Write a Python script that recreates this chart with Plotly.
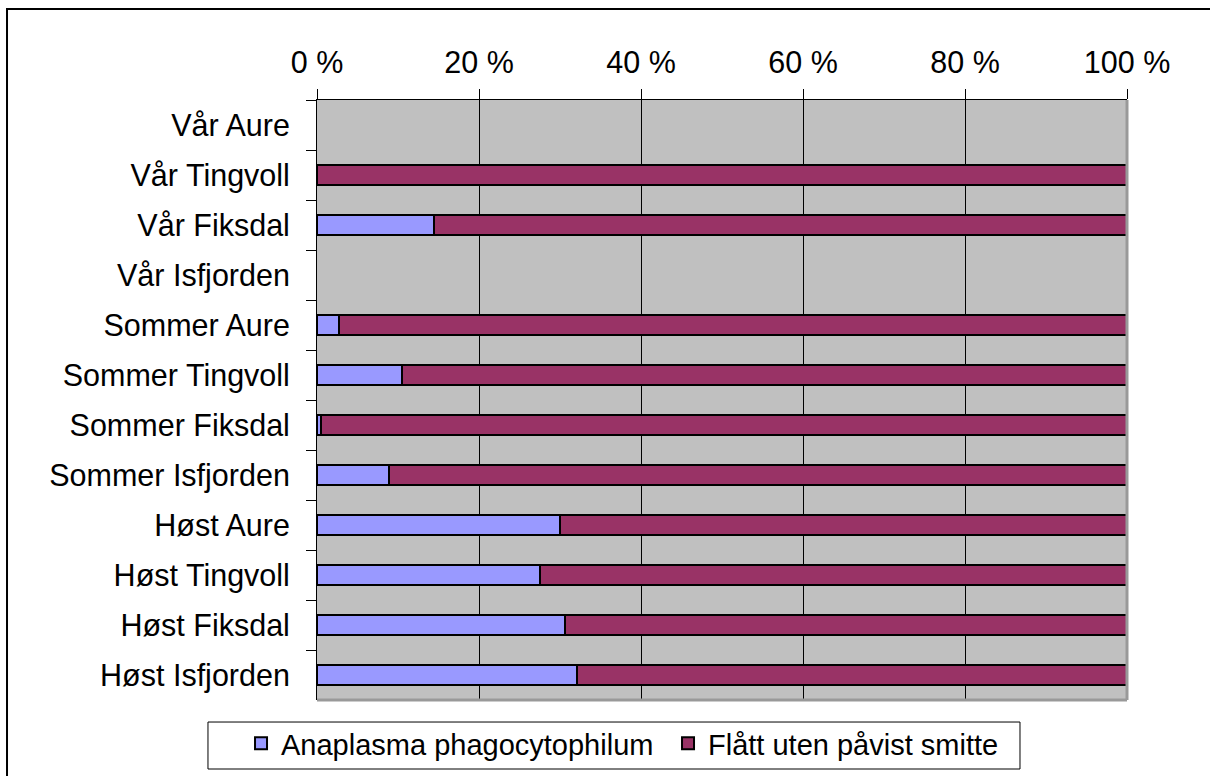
import plotly.graph_objects as go

categories = [
    "Vår Aure", "Vår Tingvoll", "Vår Fiksdal", "Vår Isfjorden",
    "Sommer Aure", "Sommer Tingvoll", "Sommer Fiksdal", "Sommer Isfjorden",
    "Høst Aure", "Høst Tingvoll", "Høst Fiksdal", "Høst Isfjorden",
]
anaplasma = [None, 0, 14.5, None, 2.7, 10.5, 0.5, 8.9, 30.0, 27.5, 30.6, 32.1]
uten_smitte = [None, 100, 85.5, None, 97.3, 89.5, 99.5, 91.1, 70.0, 72.5, 69.4, 67.9]
tick_values = [0, 20, 40, 60, 80, 100]
tick_labels = ["0 %", "20 %", "40 %", "60 %", "80 %", "100 %"]

FONT = "Liberation Sans, Arial, sans-serif"

fig = go.Figure()
fig.add_trace(go.Bar(
    y=categories, x=anaplasma, orientation="h",
    name="Anaplasma phagocytophilum",
    marker=dict(color="#9999FF", line=dict(color="black", width=2)),
))
fig.add_trace(go.Bar(
    y=categories, x=uten_smitte, orientation="h",
    name="Flått uten påvist smitte",
    marker=dict(color="#993366", line=dict(color="black", width=2)),
))

# grey plot-area border (right + bottom), legend box and outer chart frame
shapes = [
    dict(type="line", xref="paper", yref="paper", x0=1, x1=1, y0=0, y1=1,
         line=dict(color="#999999", width=3), layer="above"),
    dict(type="line", xref="paper", yref="paper", x0=0, x1=1, y0=0, y1=0,
         line=dict(color="#999999", width=3), layer="above"),
    dict(type="rect", xref="paper", yref="paper",
         x0=-0.1346, x1=0.8679, y0=-0.115, y1=-0.0367,
         line=dict(color="black", width=1), layer="above"),
    dict(type="rect", xref="paper", yref="paper",
         x0=-0.3827, x1=1.2, y0=-0.2, y1=1.1517,
         line=dict(color="black", width=2), layer="above"),
]

fig.update_layout(
    width=1210, height=776,
    barmode="stack", bargap=0.6,
    plot_bgcolor="#C0C0C0", paper_bgcolor="white",
    font=dict(family=FONT, size=30.5, color="black"),
    margin=dict(l=317, r=83, t=100, b=76, autoexpand=False),
    showlegend=True,
    legend=dict(
        orientation="h", x=-0.0938, xanchor="left", y=-0.030, yanchor="top",
        borderwidth=0, bgcolor="rgba(0,0,0,0)", entrywidth=382,
        font=dict(size=29), traceorder="normal",
    ),
    xaxis=dict(
        side="top", range=[0, 100], tickvals=tick_values, ticktext=tick_labels,
        ticks="outside", ticklen=10, tickcolor="black", tickwidth=1,
        showline=True, linecolor="black", linewidth=1,
        showgrid=True, gridcolor="black", gridwidth=1, zeroline=False,
        ticklabelstandoff=4,
    ),
    yaxis=dict(
        autorange="reversed", type="category",
        ticks="outside", ticklen=10, tickcolor="black", tickson="boundaries",
        showline=True, linecolor="black", linewidth=1, showgrid=False,
        ticklabelstandoff=20,
    ),
    shapes=shapes,
)

fig.write_html("out.html", config={"displayModeBar": False},
               post_script="document.body.style.margin='0';")
